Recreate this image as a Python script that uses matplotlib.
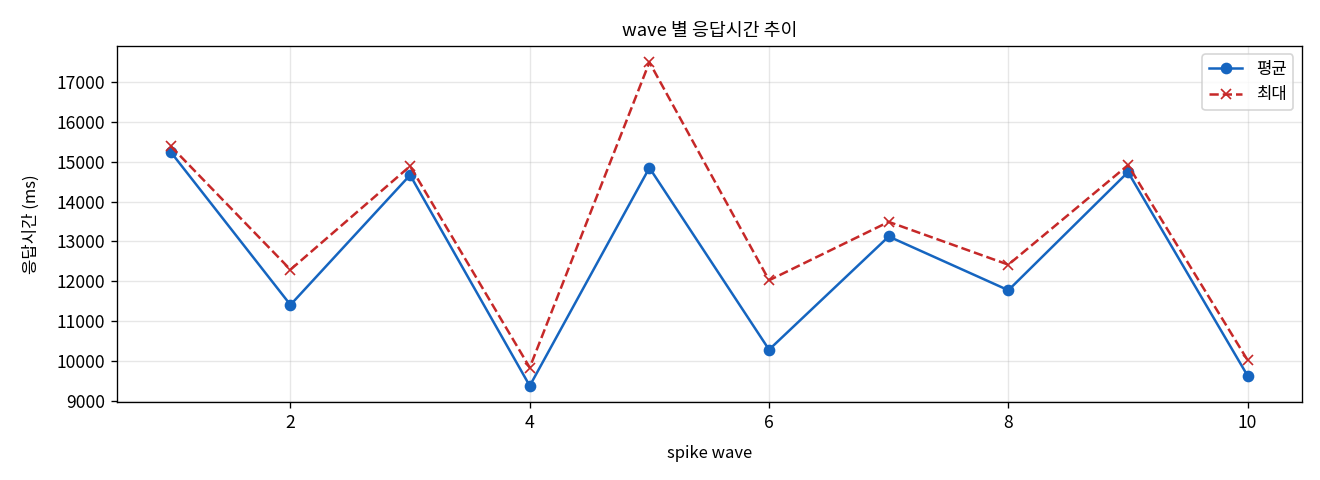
import matplotlib
matplotlib.use('Agg')
import matplotlib.pyplot as plt

plt.rcParams['font.family'] = ['Noto Sans CJK KR', 'DejaVu Sans']
plt.rcParams['axes.unicode_minus'] = False

# wave number and response times (ms)
waves = [1, 2, 3, 4, 5, 6, 7, 8, 9, 10]
avg_ms = [15245, 11408, 14667, 9375, 14850, 10283, 13125, 11775, 14742, 9625]
max_ms = [15392, 12292, 14892, 9833, 17500, 12025, 13492, 12417, 14917, 10017]

fig, ax = plt.subplots(figsize=(11, 4), dpi=120)
ax.plot(waves, avg_ms, marker='o', linestyle='-', color='#1565C0', linewidth=1.5, label='평균')
ax.plot(waves, max_ms, marker='x', linestyle='--', color='#C62828', linewidth=1.5, label='최대')

ax.set_title('wave 별 응답시간 추이', fontsize=11)
ax.set_xlabel('spike wave', fontsize=10, labelpad=8)
ax.set_ylabel('응답시간 (ms)', fontsize=10, labelpad=10)
ax.set_yticks(range(9000, 18000, 1000))
ax.tick_params(labelsize=10.5)
ax.grid(True, alpha=0.3)
ax.legend(loc='upper right')

fig.subplots_adjust(left=0.0886, right=0.986, top=0.904, bottom=0.1625)
fig.savefig('out.png', dpi=120)
